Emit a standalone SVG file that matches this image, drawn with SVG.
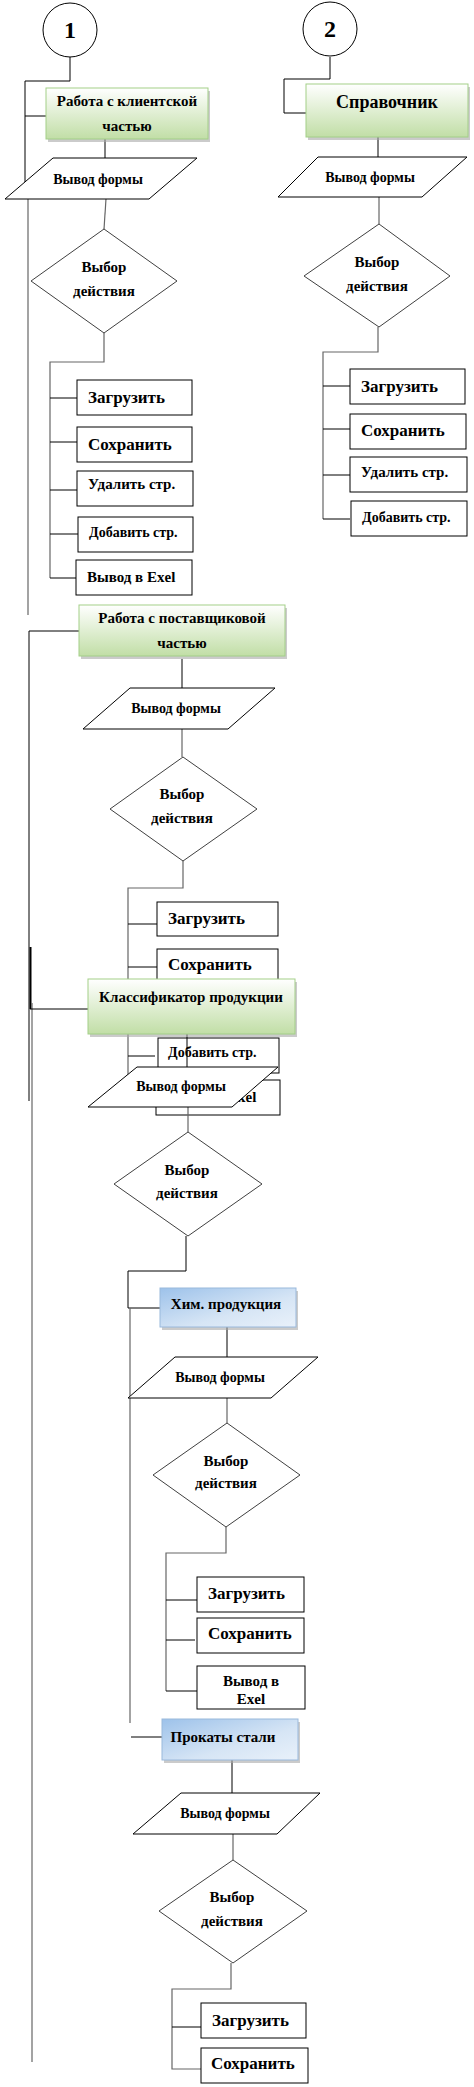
<svg xmlns="http://www.w3.org/2000/svg" width="474" height="2087" viewBox="0 0 474 2087">
<defs>
<linearGradient id="gG" x1="0" y1="0" x2="0" y2="1">
<stop offset="0" stop-color="#ffffff"/>
<stop offset="1" stop-color="#c1dea6"/>
</linearGradient>
<linearGradient id="gB" x1="0" y1="0" x2="1" y2="1">
<stop offset="0" stop-color="#9dc2ea"/>
<stop offset="0.6" stop-color="#d6e5f5"/>
<stop offset="1" stop-color="#e9f1fa"/>
</linearGradient>
<style>
.t{font-family:"Liberation Serif","Times New Roman",serif;font-weight:bold;fill:#000}
.c{text-anchor:middle}
.box{fill:#fff;stroke:#000;stroke-width:1}
.ln{fill:none;stroke:#000;stroke-width:1}
.lg{fill:none;stroke:#666;stroke-width:1.2}
.dia{fill:#fff;stroke:#404040;stroke-width:1}
.par{fill:#fff;stroke:#000;stroke-width:1}
.green{fill:url(#gG);stroke:#a3cf88;stroke-width:1}
.blue{fill:url(#gB);stroke:#9ab9dc;stroke-width:1}
.sh{fill:#a8a8a8;opacity:0.6}
.f14{font-size:14px}.f15{font-size:15px}.f17{font-size:17px}.f18{font-size:18px}.f24{font-size:24px}
</style>
</defs>
<rect width="474" height="2087" fill="#fff"/>

<!-- section 3 action boxes (drawn under connectors) -->
<g id="s3-load"><rect class="box" x="157" y="902" width="121" height="34"/><text class="t f17" x="168" y="924">Загрузить</text></g>
<g id="s3-save"><rect class="box" x="157" y="949" width="121" height="35"/><text class="t f17" x="168" y="970">Сохранить</text></g>
<g id="s3-del"><rect class="box" x="157" y="994" width="121" height="35"/><text class="t f15" x="168" y="1016">Удалить стр.</text></g>
<g id="s3-add"><rect class="box" x="158" y="1038" width="121" height="35"/><text class="t f14" x="168" y="1057">Добавить стр.</text></g>
<g id="s3-excel"><rect class="box" x="156" y="1080" width="124" height="35"/><text class="t f15" x="168" y="1102">Вывод в Exel</text></g>

<g id="connectors">
<path class="ln" d="M70,57 V81 H25 V190"/>
<path class="lg" d="M28,195 V615"/>
<path class="ln" d="M25,116 H46"/>
<path class="ln" d="M105,139 V158"/>
<path class="lg" d="M106,199 L104,229"/>
<path class="lg" d="M104,333 V362 H50 V578"/>
<path class="ln" d="M50,398 H77 M50,442 H77 M50,490 H77 M50,534 H78 M50,578 H76"/>

<path class="ln" d="M330,57 V79 H284 V113 H306"/>
<path class="ln" d="M378,137 V157"/>
<path class="lg" d="M379,197 V224"/>
<path class="lg" d="M378,327 V352 H323 V519"/>
<path class="ln" d="M323,386 H350 M323,429 H350 M323,475 H350 M323,519 H350"/>

<path class="ln" d="M29,631 H79 M29,631 V1101"/>
<path class="ln" d="M182,659 V688"/>
<path class="lg" d="M182,729 V757"/>
<path class="lg" d="M183,861 V888 H128 V1097"/>
<path class="ln" d="M128,924 H157 M128,967 H157 M128,1012 H157 M128,1056 H155 M128,1097 H156"/>

<path class="ln" d="M30.5,947 V1009" style="stroke-width:2"/>
<path class="lg" d="M32,1003 V2062"/>
<path class="ln" d="M30,1009 H88"/>
<path class="ln" d="M187,1034 V1067"/>
<path class="lg" d="M188,1107 V1132"/>
<path class="ln" d="M186,1236 V1271 H128 V1308 H160"/>
<path class="lg" d="M130,1308 V1723"/>
<path class="ln" d="M131,1737 H162"/>
<path class="ln" d="M227,1327 V1357"/>
<path class="lg" d="M227,1398 V1423"/>
<path class="lg" d="M226,1527 V1553 H166 V1691"/>
<path class="ln" d="M166,1600 H197 M166,1640 H195 M166,1691 H197"/>
<path class="ln" d="M232,1760 V1793"/>
<path class="lg" d="M233,1834 V1860"/>
<path class="lg" d="M231,1963 V1989 H172 V2069 H201"/>
<path class="ln" d="M172,2027 H201"/>
</g>

<!-- section 1 -->
<g id="c1"><circle cx="70" cy="30" r="27" fill="#fff" stroke="#000"/><text class="t f24 c" x="70" y="38">1</text></g>
<g id="s1-title"><rect class="sh" x="48" y="91" width="162" height="51"/><rect class="green" x="46" y="88" width="162" height="51"/><text class="t f15 c" x="127" y="106">Работа с клиентской</text><text class="t f15 c" x="127" y="131">частью</text></g>
<g id="s1-form"><polygon class="par" points="53,158 197,158 149,199 5,199"/><text class="t f14 c" x="98" y="184">Вывод формы</text></g>
<g id="s1-choice"><polygon class="dia" points="104,229 177,281 104,333 31,281"/><text class="t f15 c" x="104" y="272">Выбор</text><text class="t f15 c" x="104" y="296">действия</text></g>
<g id="s1-load"><rect class="box" x="77" y="380" width="115" height="35"/><text class="t f17" x="88" y="403">Загрузить</text></g>
<g id="s1-save"><rect class="box" x="77" y="427" width="115" height="35"/><text class="t f17" x="88" y="450">Сохранить</text></g>
<g id="s1-del"><rect class="box" x="77" y="471" width="116" height="35"/><text class="t f15" x="88" y="489">Удалить стр.</text></g>
<g id="s1-add"><rect class="box" x="78" y="517" width="115" height="35"/><text class="t f14" x="89" y="537">Добавить стр.</text></g>
<g id="s1-excel"><rect class="box" x="76" y="560" width="116" height="35"/><text class="t f15" x="87" y="582">Вывод в Exel</text></g>

<!-- section 2 -->
<g id="c2"><circle cx="330" cy="29" r="27" fill="#fff" stroke="#000"/><text class="t f24 c" x="330" y="37">2</text></g>
<g id="s2-title"><rect class="sh" x="308" y="87" width="162" height="53"/><rect class="green" x="306" y="84" width="162" height="53"/><text class="t f18 c" x="387" y="108">Справочник</text></g>
<g id="s2-form"><polygon class="par" points="318,157 467,157 422,197 278,197"/><text class="t f14 c" x="370" y="182">Вывод формы</text></g>
<g id="s2-choice"><polygon class="dia" points="379,224 450,276 379,327 304,276"/><text class="t f15 c" x="377" y="267">Выбор</text><text class="t f15 c" x="377" y="291">действия</text></g>
<g id="s2-load"><rect class="box" x="350" y="369" width="115" height="35"/><text class="t f17" x="361" y="392">Загрузить</text></g>
<g id="s2-save"><rect class="box" x="350" y="414" width="116" height="35"/><text class="t f17" x="361" y="436">Сохранить</text></g>
<g id="s2-del"><rect class="box" x="350" y="457" width="117" height="35"/><text class="t f15" x="361" y="477">Удалить стр.</text></g>
<g id="s2-add"><rect class="box" x="351" y="501" width="116" height="35"/><text class="t f14" x="362" y="522">Добавить стр.</text></g>

<!-- section 3 -->
<g id="s3-title"><rect class="sh" x="81" y="608" width="206" height="51"/><rect class="green" x="79" y="605" width="206" height="51"/><text class="t f15 c" x="182" y="623">Работа с поставщиковой</text><text class="t f15 c" x="182" y="648">частью</text></g>
<g id="s3-form"><polygon class="par" points="130,688 275,688 228,729 83,729"/><text class="t f14 c" x="176" y="713">Вывод формы</text></g>
<g id="s3-choice"><polygon class="dia" points="183,757 257,809 183,861 110,809"/><text class="t f15 c" x="182" y="799">Выбор</text><text class="t f15 c" x="182" y="823">действия</text></g>

<!-- section 4 -->
<g id="s4-title"><rect class="sh" x="90" y="982" width="207" height="55"/><rect class="green" x="88" y="979" width="207" height="55"/><text class="t f15 c" x="191" y="1002">Классификатор продукции</text></g>
<g id="s4-form"><polygon class="par" points="137,1067 278,1067 232,1107 88,1107"/><text class="t f14 c" x="181" y="1091">Вывод формы</text></g>
<g id="s4-choice"><polygon class="dia" points="188,1132 262,1184 188,1236 114,1184"/><text class="t f15 c" x="187" y="1175">Выбор</text><text class="t f15 c" x="187" y="1198">действия</text></g>

<g id="chem"><rect class="sh" x="162" y="1291" width="136" height="39"/><rect class="blue" x="160" y="1288" width="136" height="39"/><text class="t f15 c" x="226" y="1309">Хим. продукция</text></g>
<g id="chem-form"><polygon class="par" points="175,1357 318,1357 271,1398 128,1398"/><text class="t f14 c" x="220" y="1382">Вывод формы</text></g>
<g id="chem-choice"><polygon class="dia" points="227,1423 300,1475 226,1527 153,1475"/><text class="t f15 c" x="226" y="1466">Выбор</text><text class="t f15 c" x="226" y="1488">действия</text></g>
<g id="chem-load"><rect class="box" x="197" y="1577" width="107" height="35"/><text class="t f17" x="208" y="1599">Загрузить</text></g>
<g id="chem-save"><rect class="box" x="197" y="1618" width="107" height="35"/><text class="t f17" x="208" y="1639">Сохранить</text></g>
<g id="chem-excel"><rect class="box" x="197" y="1666" width="108" height="43"/><text class="t f15 c" x="251" y="1686">Вывод в</text><text class="t f15 c" x="251" y="1704">Exel</text></g>

<g id="steel"><rect class="sh" x="164" y="1722" width="136" height="41"/><rect class="blue" x="162" y="1719" width="136" height="41"/><text class="t f15 c" x="223" y="1742">Прокаты стали</text></g>
<g id="steel-form"><polygon class="par" points="181,1793 320,1793 277,1834 133,1834"/><text class="t f14 c" x="225" y="1818">Вывод формы</text></g>
<g id="steel-choice"><polygon class="dia" points="233,1860 307,1911 233,1963 159,1911"/><text class="t f15 c" x="232" y="1902">Выбор</text><text class="t f15 c" x="232" y="1926">действия</text></g>
<g id="steel-load"><rect class="box" x="201" y="2003" width="105" height="35"/><text class="t f17" x="212" y="2026">Загрузить</text></g>
<g id="steel-save"><rect class="box" x="201" y="2048" width="107" height="35"/><text class="t f17" x="211" y="2069">Сохранить</text></g>
</svg>
